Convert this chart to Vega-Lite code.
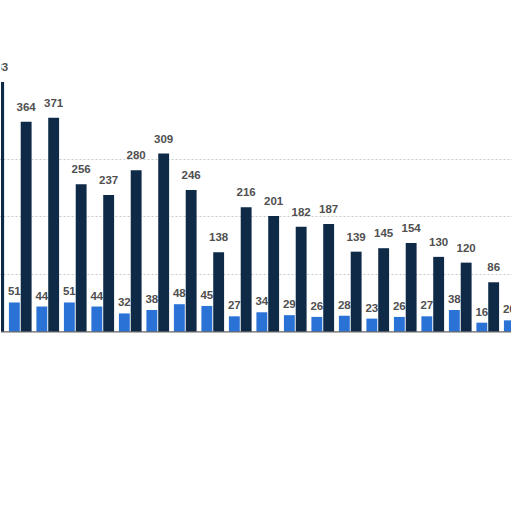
{
  "$schema": "https://vega.github.io/schema/vega-lite/v6.json",
  "width": 512,
  "height": 512,
  "padding": 0,
  "autosize": {"type": "fit", "contains": "padding"},
  "background": "white",
  "config": {"view": {"stroke": null}},
  "data": {"values": [
    {"g": "p00", "s": "a", "v": 55}, {"g": "p00", "s": "b", "v": 433},
    {"g": "p01", "s": "a", "v": 51}, {"g": "p01", "s": "b", "v": 364},
    {"g": "p02", "s": "a", "v": 44}, {"g": "p02", "s": "b", "v": 371},
    {"g": "p03", "s": "a", "v": 51}, {"g": "p03", "s": "b", "v": 256},
    {"g": "p04", "s": "a", "v": 44}, {"g": "p04", "s": "b", "v": 237},
    {"g": "p05", "s": "a", "v": 32}, {"g": "p05", "s": "b", "v": 280},
    {"g": "p06", "s": "a", "v": 38}, {"g": "p06", "s": "b", "v": 309},
    {"g": "p07", "s": "a", "v": 48}, {"g": "p07", "s": "b", "v": 246},
    {"g": "p08", "s": "a", "v": 45}, {"g": "p08", "s": "b", "v": 138},
    {"g": "p09", "s": "a", "v": 27}, {"g": "p09", "s": "b", "v": 216},
    {"g": "p10", "s": "a", "v": 34}, {"g": "p10", "s": "b", "v": 201},
    {"g": "p11", "s": "a", "v": 29}, {"g": "p11", "s": "b", "v": 182},
    {"g": "p12", "s": "a", "v": 26}, {"g": "p12", "s": "b", "v": 187},
    {"g": "p13", "s": "a", "v": 28}, {"g": "p13", "s": "b", "v": 139},
    {"g": "p14", "s": "a", "v": 23}, {"g": "p14", "s": "b", "v": 145},
    {"g": "p15", "s": "a", "v": 26}, {"g": "p15", "s": "b", "v": 154},
    {"g": "p16", "s": "a", "v": 27}, {"g": "p16", "s": "b", "v": 130},
    {"g": "p17", "s": "a", "v": 38}, {"g": "p17", "s": "b", "v": 120},
    {"g": "p18", "s": "a", "v": 16}, {"g": "p18", "s": "b", "v": 86},
    {"g": "p19", "s": "a", "v": 20}, {"g": "p19", "s": "b", "v": 80}
  ]},
  "encoding": {
    "x": {"field": "g", "type": "nominal", "sort": null, "axis": null,
          "scale": {"range": [-22, 528], "paddingInner": 0.175, "paddingOuter": 0.0875}},
    "xOffset": {"field": "s", "type": "nominal", "scale": {"paddingInner": 0.08}},
    "y": {"field": "v", "type": "quantitative",
          "scale": {"domain": [-312, 575], "nice": false, "zero": false},
          "axis": {"labels": false, "ticks": false, "domain": false, "title": null,
                   "values": [100, 200, 300], "gridDash": [2, 2], "gridColor": "#c8c8c8", "gridWidth": 1}}
  },
  "layer": [
    {
      "mark": {"type": "bar", "clip": true},
      "encoding": {
        "color": {"field": "s", "type": "nominal", "legend": null,
                  "scale": {"domain": ["a", "b"], "range": ["#2a72d6", "#0e2a47"]}},
        "y2": {"datum": 0}
      }
    },
    {
      "transform": [{"filter": "datum.s === 'a'"}],
      "mark": {"type": "text", "clip": true, "baseline": "middle", "dy": -10,
               "font": "Liberation Sans", "fontSize": 11.5, "fontWeight": "bold", "color": "#505050"},
      "encoding": {"text": {"field": "v", "type": "quantitative"}}
    },
    {
      "transform": [{"filter": "datum.s === 'b'"}],
      "mark": {"type": "text", "clip": true, "baseline": "middle", "dy": -14,
               "font": "Liberation Sans", "fontSize": 11.5, "fontWeight": "bold", "color": "#505050"},
      "encoding": {"text": {"field": "v", "type": "quantitative"}}
    },
    {
      "data": {"values": [{"z": 0}]},
      "mark": {"type": "rule", "color": "#666666", "strokeWidth": 1.2},
      "encoding": {"y": {"field": "z", "type": "quantitative"}, "x": null, "xOffset": null}
    }
  ]
}
